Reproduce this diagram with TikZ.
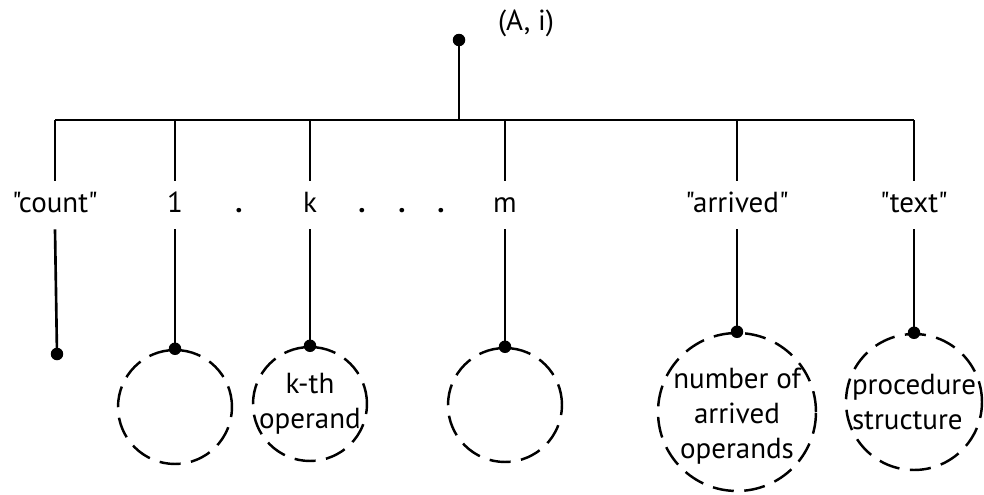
\documentclass[tikz,border=0pt]{standalone}
\usepackage{fontspec}
\setmainfont{PT Sans}[Ligatures=TeXOff]
\usetikzlibrary{shapes.geometric}
\tikzset{
dot/.style={circle, fill, inner sep=0pt, minimum size=0.25cm},
slot/.style={circle, draw, dash pattern=on 12pt off 6pt, line width=1.4pt, inner sep=0pt},
tag/.style={inner sep=0pt, minimum height=0.92cm, text height=12pt, text depth=3pt, font=\fontsize{16.5}{19}\selectfont},
inside/.style={align=center, font=\fontsize{16.5}{20}\selectfont, inner sep=0pt},
}

\begin{document}
\begin{tikzpicture}[x=0.02cm, y=-0.02cm, line width=1.5pt]
\useasboundingbox (0,0) rectangle (984,494);
\node[dot] (root) at (459,40) {};
\node[inner sep=0pt, font=\fontsize{16.5}{19}\selectfont] (ai) at (526,23) {(A, i)};
\coordinate (hub) at (459,120);

\node[tag] (count) at (55,205) {"count"};
\node[tag] (one) at (175,205) {1};
\node[tag] (k) at (310,205) {k};
\node[tag] (m) at (505,205) {m};
\node[tag] (arrived) at (737,205) {"arrived"};
\node[tag] (text) at (914,205) {"text"};
\foreach \x/\n in {239/p1, 362/p2, 402/p3, 441/p4}
  \node[tag, font=\fontsize{16.5}{19}\bfseries] (\n) at (\x,205) {.};

\node[slot, minimum size=2.28cm] (c1) at (175,407) {};
\node[slot, minimum size=2.28cm, label={[inside]center:{k-th\\operand}}] (ck) at (310,404) {};
\node[slot, minimum size=2.28cm] (cm) at (505,405) {};
\node[slot, minimum size=3.16cm, label={[inside, yshift=-0.08cm]center:{number of\\arrived\\operands}}] (ca) at (737,412) {};
\node[slot, minimum size=2.72cm, label={[inside, align=left]center:{procedure\\structure}}] (ct) at (914,402) {};

\node[dot] (dcount) at (57,354) {};
\node[dot] (d1) at (c1.north) {};
\node[dot] (dk) at (ck.north) {};
\node[dot] (dm) at (cm.north) {};
\node[dot] (da) at (ca.north) {};
\node[dot] (dt) at (ct.north) {};

\draw (root.center) -- (hub);
\draw (count |- hub) -- (text |- hub);
\foreach \n in {count, one, k, m, arrived, text}
  \draw (\n.north) -- (\n |- hub);
\foreach \n/\e in {count/dcount, one/d1, k/dk, m/dm, arrived/da, text/dt}
  \draw (\n.south) -- (\e.center);
\end{tikzpicture}
\end{document}
